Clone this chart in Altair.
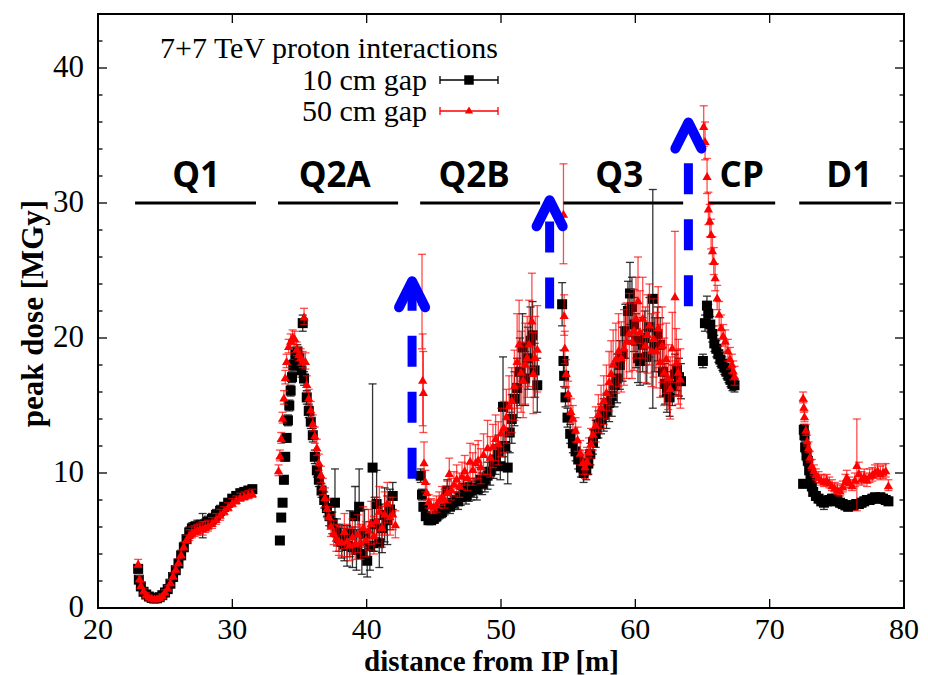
import altair as alt
import pandas as pd

# ---------------- data: 10 cm gap (black squares) ----------------
B_X = [22.99, 23.04, 23.19, 23.39, 23.59, 23.79, 23.99, 24.19, 24.39, 24.59, 24.79, 24.99, 25.19, 25.39, 25.59,
       25.79, 25.99, 26.19, 26.39, 26.59, 26.79, 26.99, 27.19, 27.39, 27.59, 27.79, 27.99, 28.19, 28.49, 28.79,
       29.09, 29.39, 29.69, 29.99, 30.29, 30.59, 30.89, 31.19, 31.49,
       33.54, 33.64, 33.74, 33.84, 33.94, 34.04, 34.14, 34.24, 34.34, 34.44, 34.54, 34.69, 34.84, 34.99, 35.14,
       35.24, 35.34, 35.54, 35.69, 35.84, 35.99, 36.14, 36.29, 36.44, 36.64, 36.84, 37.04, 37.24, 37.44, 37.64,
       37.79, 37.94, 38.14, 38.34, 38.54, 38.74, 38.94, 39.14, 39.24, 39.44, 39.64, 39.84, 40.04, 40.24, 40.44,
       40.59, 40.74, 40.94, 41.14, 41.34, 41.54, 41.74, 41.94,
       44.02, 44.12, 44.22,
       44.4, 44.6, 44.8, 45.0, 45.2, 45.4, 45.6, 45.8, 46.0, 46.2, 46.4, 46.6, 46.8, 47.0, 47.2, 47.4, 47.6,
       47.8, 48.0, 48.2, 48.45, 48.6, 48.8, 49.0, 49.2, 49.45, 49.6, 49.8, 49.95, 50.15, 50.3, 50.5, 50.65,
       50.8, 51.0, 51.2, 51.4, 51.6, 51.8, 52.0, 52.2, 52.35, 52.5, 52.7,
       54.55, 54.65, 54.7, 54.8, 54.95, 55.15, 55.35, 55.55, 55.75, 55.95, 56.15, 56.35, 56.5, 56.65, 56.85,
       57.05, 57.25, 57.45, 57.65, 57.85, 58.05, 58.25, 58.45, 58.65, 58.85, 59.05, 59.25, 59.45, 59.6, 59.75,
       59.9, 60.05, 60.2, 60.35, 60.55, 60.7, 60.85, 61.05, 61.3, 61.45, 61.65, 61.85, 62.05, 62.2, 62.35,
       62.55, 62.75, 62.95, 63.1, 63.25, 63.4,
       65.03, 65.18, 65.33, 65.43, 65.58, 65.73, 65.88, 66.03, 66.18, 66.33, 66.48, 66.63, 66.78, 66.93, 67.08,
       67.23, 67.38,
       72.49, 72.54, 72.59, 72.64, 72.74, 72.84, 72.94, 73.04, 73.14, 73.24, 73.44, 73.64, 73.84, 74.04, 74.24,
       74.44, 74.64, 74.84, 75.04, 75.24, 75.44, 75.64, 75.84, 76.04, 76.24, 76.44, 76.64, 76.84, 77.04, 77.24,
       77.44, 77.64, 77.84, 78.04, 78.24, 78.44, 78.64, 78.84]
B_Y = [2.9, 2.1, 1.6, 1.2, 1.0, 0.85, 0.75, 0.7, 0.72, 0.8, 0.95, 1.15, 1.4, 1.8, 2.3,
       2.8, 3.3, 3.9, 4.5, 5.1, 5.6, 5.9, 6.0, 6.0, 6.1, 6.1, 6.2, 6.4, 6.6, 6.9,
       7.2, 7.5, 7.8, 8.1, 8.3, 8.5, 8.6, 8.7, 8.8,
       5.0, 6.7, 7.8, 9.5, 11.2, 12.6, 13.9, 15.0, 16.1, 17.1, 18.0, 18.8, 19.0, 18.5, 17.6,
       21.1, 17.0, 15.6, 14.6, 13.8, 12.8, 11.2, 10.2, 9.5, 8.7, 8.0, 7.4, 6.8, 6.3, 7.8,
       5.6, 5.2, 4.9, 4.7, 4.6, 5.5, 4.5, 6.8, 4.3, 7.5, 4.0, 5.5, 3.5, 4.6, 10.4,
       6.2, 7.7, 4.8, 5.9, 6.9, 6.5, 7.3, 8.3,
       9.8, 8.4, 7.5,
       6.8, 6.5, 6.5, 6.6, 6.8, 7.0, 7.1, 7.4, 8.7, 7.5, 7.8, 8.0, 7.9, 8.2, 8.9, 8.3, 8.6,
       8.7, 8.9, 8.8, 9.5, 9.2, 9.5, 9.8, 10.1, 10.7, 11.0, 11.6, 10.5, 14.9, 12.0, 10.4, 13.0,
       14.0, 15.5, 16.3, 17.5, 19.3, 17.0, 18.5, 19.8, 20.2, 17.6, 16.5,
       22.5, 18.3, 17.2, 15.6, 14.1, 12.9, 12.2, 11.6, 11.0, 10.4, 10.0, 10.2, 10.7, 11.4, 12.3,
       12.9, 13.6, 14.0, 14.3, 14.6, 15.2, 15.7, 16.5, 17.0, 18.0, 18.8, 20.5, 22.0, 23.3, 22.3,
       21.0, 19.8, 18.5, 18.3, 19.5, 20.0, 18.6, 20.8, 22.9, 19.5, 20.3, 19.5, 17.5, 16.6, 16.0,
       15.6, 16.5, 17.3, 17.6, 17.1, 16.8,
       18.3, 21.1, 22.4, 21.8, 21.0, 20.3, 19.6, 19.2, 18.8, 18.4, 18.1, 17.8, 17.5, 17.2, 16.9,
       16.6, 16.5,
       9.2, 13.2, 12.8, 11.9, 11.3, 10.9, 10.2, 9.7, 9.0, 8.6, 8.3, 8.1, 7.9, 7.8, 7.9,
       8.0, 8.1, 7.9, 8.0, 7.8, 7.7, 7.6, 7.5, 7.6, 7.6, 7.7, 7.7, 7.8, 7.9, 8.0,
       8.0, 8.1, 8.2, 8.1, 8.2, 8.1, 8.0, 7.9]
B_E = [0.3, 0.2, 0.2, 0.15, 0.15, 0.1, 0.1, 0.1, 0.1, 0.1, 0.1, 0.15, 0.15, 0.2, 0.2,
       0.2, 0.25, 0.3, 0.3, 0.3, 0.4, 0.4, 0.4, 0.5, 0.4, 0.9, 0.4, 0.4, 0.4, 0.4,
       0.4, 0.3, 0.3, 0.3, 0.3, 0.3, 0.3, 0.3, 0.3,
       0.2, 0.2, 0.2, 0.3, 0.3, 0.3, 0.4, 0.4, 0.4, 0.4, 0.4, 0.5, 0.5, 0.5, 0.5,
       0.6, 0.5, 0.5, 0.5, 0.5, 0.5, 0.5, 0.5, 0.5, 0.5, 0.6, 0.6, 0.7, 0.8, 2.5,
       1.0, 1.0, 1.2, 1.2, 1.5, 1.7, 1.5, 2.2, 1.5, 2.8, 1.5, 1.8, 1.2, 1.8, 6.2,
       2.0, 2.5, 1.8, 1.8, 2.0, 1.8, 1.5, 1.0,
       0.5, 0.4, 0.3,
       0.3, 0.3, 0.3, 0.3, 0.4, 0.4, 0.4, 0.5, 0.8, 0.5, 0.5, 0.6, 0.6, 0.6, 0.8, 0.6, 0.7,
       0.7, 0.7, 0.8, 0.9, 0.8, 0.9, 1.0, 1.0, 1.1, 1.1, 1.2, 1.0, 3.7, 1.3, 1.2, 1.5,
       1.8, 2.0, 2.2, 2.5, 2.5, 2.0, 2.3, 2.5, 2.5, 2.0, 2.0,
       1.6, 0.8, 0.8, 0.7, 0.7, 0.7, 0.7, 0.7, 0.7, 0.7, 0.7, 0.7, 0.8, 0.8, 0.9,
       1.0, 1.0, 1.1, 1.2, 1.3, 1.4, 1.5, 1.6, 1.8, 1.8, 2.0, 2.0, 2.2, 2.3, 2.2,
       2.0, 2.0, 1.8, 1.8, 2.0, 2.0, 2.0, 2.2, 8.1, 2.0, 2.0, 2.0, 1.8, 1.5, 1.5,
       1.4, 1.5, 1.5, 1.5, 1.4, 1.3,
       0.5, 0.6, 0.7, 0.7, 0.6, 0.6, 0.6, 0.6, 0.6, 0.5, 0.5, 0.5, 0.5, 0.5, 0.5,
       0.5, 0.5,
       0.3, 0.4, 0.4, 0.4, 0.4, 0.4, 0.3, 0.3, 0.3, 0.3, 0.3, 0.3, 0.3, 0.5, 0.3,
       0.3, 0.3, 0.3, 0.3, 0.3, 0.3, 0.3, 0.3, 0.3, 0.3, 0.3, 0.3, 0.3, 0.3, 0.3,
       0.3, 0.3, 0.3, 0.3, 0.3, 0.3, 0.3, 0.3]

# ---------------- data: 50 cm gap (red triangles) ----------------
R_X = [22.99, 23.09, 23.19, 23.39, 23.59, 23.79, 23.99, 24.19, 24.39, 24.59, 24.79, 24.99, 25.19, 25.39, 25.59,
       25.79, 25.99, 26.19, 26.39, 26.59, 26.79, 26.99, 27.19, 27.39, 27.59, 27.79, 27.99, 28.19, 28.49, 28.79,
       29.09, 29.39, 29.69, 29.99, 30.29, 30.59, 30.89, 31.19, 31.49,
       33.44, 33.54, 33.64, 33.74, 33.84, 33.94, 34.04, 34.19, 34.34, 34.49, 34.64, 34.79, 34.94, 35.09, 35.24,
       35.34, 35.44, 35.54, 35.69, 35.84, 35.99, 36.14, 36.29, 36.44, 36.59, 36.74, 36.89, 37.04, 37.19, 37.34,
       37.54, 37.74, 37.94, 38.14, 38.34, 38.54, 38.74, 38.94, 39.14, 39.34, 39.54, 39.74, 39.94, 40.14, 40.34,
       40.54, 40.74, 40.94, 41.14, 41.34, 41.54, 41.74, 41.94, 42.14,
       44.12, 44.17, 44.22, 44.27, 44.37, 44.47, 44.62,
       44.8, 45.0, 45.2, 45.4, 45.6, 45.8, 46.0, 46.15, 46.3, 46.5, 46.7, 46.9, 47.1, 47.3, 47.5,
       47.7, 47.9, 48.1, 48.3, 48.5, 48.7, 49.0, 49.2, 49.4, 49.6, 49.8, 50.0, 50.2, 50.4, 50.6,
       50.8, 51.0, 51.2, 51.35, 51.5, 51.65, 51.8, 51.95, 52.1, 52.3, 52.4, 52.55, 52.7,
       54.65, 54.7, 54.75, 54.85, 55.0, 55.2, 55.35, 55.55, 55.7, 55.9, 56.1, 56.25, 56.4, 56.55, 56.7,
       56.85, 57.05, 57.25, 57.45, 57.65, 57.85, 58.05, 58.2, 58.35, 58.55, 58.75, 58.95, 59.15, 59.35, 59.55,
       59.75, 59.9, 60.05, 60.2, 60.35, 60.55, 60.75, 60.9, 61.05, 61.2, 61.35, 61.55, 61.7, 61.85, 62.0,
       62.15, 62.3, 62.45, 62.6, 62.75, 62.95, 63.05, 63.2, 63.35,
       65.09, 65.19, 65.34, 65.44, 65.54, 65.64, 65.74, 65.84, 65.94, 66.09, 66.24, 66.39, 66.54, 66.69, 66.89,
       67.04, 67.19, 67.29, 67.39,
       72.49, 72.54, 72.59, 72.69, 72.79, 72.89, 72.99, 73.14, 73.29, 73.44, 73.64, 73.84, 74.04, 74.24, 74.44,
       74.64, 74.84, 75.04, 75.24, 75.44, 75.64, 75.74, 75.94, 76.14, 76.34, 76.49, 76.64, 76.84, 77.04, 77.24,
       77.44, 77.64, 77.84, 78.04, 78.24, 78.44, 78.64, 78.84]
R_Y = [3.3, 2.2, 1.7, 1.3, 1.0, 0.85, 0.75, 0.7, 0.72, 0.8, 0.95, 1.2, 1.5, 1.9, 2.4,
       2.9, 3.4, 4.0, 4.6, 5.1, 5.4, 5.6, 5.7, 5.8, 5.9, 5.9, 6.0, 6.1, 6.3, 6.6,
       6.9, 7.2, 7.5, 7.8, 8.0, 8.2, 8.3, 8.4, 8.5,
       10.2, 11.3, 12.6, 14.1, 15.6, 17.1, 18.3, 19.4, 19.8, 20.1, 20.0, 19.2, 18.8, 18.6, 18.4,
       21.6, 18.3, 16.6, 15.6, 14.7, 13.7, 12.8, 11.9, 10.8, 9.9, 9.0, 8.2, 7.4, 6.8, 6.1,
       5.6, 5.2, 5.0, 4.9, 5.7, 5.0, 4.7, 5.3, 4.8, 5.5, 4.9, 6.0, 5.1, 5.8, 6.3,
       5.4, 6.5, 7.2, 6.0, 7.0, 7.8, 6.8, 7.0, 6.2,
       22.7, 16.9, 16.0, 10.8, 9.4, 8.6, 7.9,
       7.6, 7.5, 7.7, 8.0, 8.3, 8.1, 8.6, 10.0, 8.8, 9.2, 9.6, 9.1, 9.8, 10.2, 9.7,
       10.9, 10.3, 10.8, 11.0, 10.5, 11.4, 11.9, 11.2, 12.0, 12.6, 12.2, 13.0, 13.4, 14.2, 15.0,
       15.4, 16.5, 18.3, 19.6, 17.5, 16.9, 18.1, 18.6, 19.6, 21.3, 17.4, 18.6, 19.2,
       29.2, 21.7, 19.3, 17.4, 15.9, 14.6, 14.1, 13.2, 12.5, 11.5, 10.8, 10.5, 10.9, 11.6, 12.2,
       12.9, 13.6, 14.4, 14.9, 15.4, 16.0, 16.8, 17.4, 18.1, 18.5, 19.1, 18.6, 19.3, 19.8, 20.4,
       19.8, 20.6, 21.5, 22.8, 20.5, 21.5, 19.5, 20.3, 21.0, 19.1, 20.0, 19.1, 20.8, 18.3, 19.5,
       17.5, 18.5, 17.1, 16.3, 19.3, 23.1, 18.2, 17.5, 17.0,
       35.7, 34.6, 32.0, 29.6, 28.7, 27.7, 26.5, 25.7, 24.5, 23.0, 21.8, 20.8, 20.2, 19.8, 19.1,
       18.5, 18.1, 17.6, 17.2,
       15.6, 14.9, 14.2, 13.2, 12.4, 11.9, 11.2, 10.6, 10.2, 9.9, 9.7, 9.5, 9.4, 9.5, 9.3,
       9.1, 8.9, 8.8, 8.7, 9.0, 9.4, 9.7, 9.3, 9.1, 9.5, 10.6, 10.0, 9.6, 9.8, 9.5,
       9.8, 9.9, 10.1, 10.2, 10.0, 10.1, 10.2, 9.1]
R_E = [0.3, 0.2, 0.2, 0.15, 0.15, 0.1, 0.1, 0.1, 0.1, 0.1, 0.1, 0.15, 0.15, 0.2, 0.2,
       0.2, 0.25, 0.3, 0.3, 0.3, 0.4, 0.4, 0.4, 0.4, 0.4, 0.5, 0.4, 0.4, 0.4, 0.4,
       0.4, 0.3, 0.3, 0.3, 0.3, 0.3, 0.3, 0.3, 0.3,
       0.4, 0.4, 0.4, 0.4, 0.5, 0.5, 0.5, 0.5, 0.5, 0.5, 0.5, 0.5, 0.5, 0.6, 0.6,
       0.6, 0.6, 0.6, 0.6, 0.6, 0.6, 0.6, 0.6, 0.6, 0.6, 0.6, 0.7, 0.7, 0.7, 0.8,
       0.9, 1.0, 1.1, 1.1, 1.3, 1.2, 1.2, 1.3, 1.2, 1.4, 1.3, 1.5, 1.3, 1.5, 1.6,
       1.4, 1.7, 1.8, 1.5, 1.6, 1.5, 1.4, 1.2, 1.0,
       3.5, 3.4, 3.0, 1.5, 0.8, 0.6, 0.5,
       0.5, 0.5, 0.6, 0.6, 0.7, 0.7, 0.8, 1.1, 0.8, 0.9, 1.0, 0.9, 1.0, 1.1, 1.0,
       1.3, 1.2, 1.3, 1.4, 1.3, 1.5, 2.0, 1.5, 1.6, 1.7, 1.6, 1.8, 1.9, 2.0, 2.2,
       2.4, 2.6, 3.5, 3.2, 3.0, 2.8, 3.0, 3.0, 3.2, 3.5, 3.0, 3.0, 3.2,
       3.7, 1.5, 1.2, 1.0, 0.9, 0.9, 0.9, 0.9, 0.9, 0.9, 0.9, 0.9, 1.0, 1.0, 1.1,
       1.2, 1.3, 1.4, 1.6, 1.8, 2.0, 2.2, 2.4, 2.5, 2.6, 2.7, 2.6, 2.8, 2.8, 2.9,
       2.8, 3.0, 3.0, 3.2, 3.0, 3.0, 2.8, 2.9, 3.0, 2.7, 2.9, 2.8, 3.0, 2.7, 2.8,
       2.5, 2.6, 2.4, 2.3, 2.6, 4.8, 2.5, 2.4, 2.2,
       1.5, 1.4, 1.3, 1.2, 1.2, 1.1, 1.0, 1.0, 1.0, 0.9, 0.9, 0.9, 0.8, 0.8, 0.8,
       0.8, 0.7, 0.7, 0.7,
       0.4, 0.4, 0.4, 0.4, 0.4, 0.4, 0.4, 0.4, 0.4, 0.4, 0.4, 0.4, 0.4, 0.4, 0.4,
       0.4, 0.4, 0.4, 0.4, 0.4, 0.5, 0.5, 0.4, 0.4, 0.5, 3.4, 0.8, 0.5, 0.5, 0.5,
       0.5, 0.5, 0.5, 0.5, 0.5, 0.5, 0.5, 0.4]

# ---------------- annotations ----------------
SEG_NAMES = ["Q1", "Q2A", "Q2B", "Q3", "CP", "D1"]
SEG_START = [22.76, 33.40, 43.98, 54.62, 65.42, 72.20]
SEG_END = [31.76, 42.34, 52.91, 63.56, 70.41, 79.05]
SEG_LABEL_X = [27.3, 37.62, 48.0, 58.8, 67.92, 75.92]
SEG_LINE_Y = 30
SEG_LABEL_Y = 31.15

ARROW_X = [43.38, 53.62, 63.95]
ARROW_BOTTOM = [9.58, 22.18, 22.35]
ARROW_SHAFT_TOP = [24.2, 28.67, 32.96]
ARROW_TIP = [24.2, 30.2, 35.96]
HEAD_HALF_W = 0.97
HEAD_H = 1.93

X_TICKS = [20, 30, 40, 50, 60, 70, 80]
Y_TICKS = [0, 10, 20, 30, 40]
X_MAJOR_IN = [30, 40, 50, 60, 70]
Y_MAJOR_IN = [10, 20, 30, 40]
Y_MINOR_IN = [2, 4, 6, 8, 12, 14, 16, 18, 22, 24, 26, 28, 32, 34, 36, 38, 42]

W, H = 806, 594
SERIF = "Liberation Serif"

bdf = pd.DataFrame({"x": B_X, "y": B_Y, "lo": [a - b for a, b in zip(B_Y, B_E)],
                    "hi": [a + b for a, b in zip(B_Y, B_E)]})
rdf = pd.DataFrame({"x": R_X, "y": R_Y, "lo": [a - b for a, b in zip(R_Y, R_E)],
                    "hi": [a + b for a, b in zip(R_Y, R_E)]})

XS = alt.Scale(domain=[20, 80], nice=False, zero=False)
YS = alt.Scale(domain=[0, 44], nice=False, zero=False)
XAX = alt.Axis(values=X_TICKS, title="distance from IP [m]", grid=False, ticks=False, tickSize=0,
               domain=False, labels=False,
               titleFont=SERIF, titleFontSize=29, titleFontWeight="bold", titleColor="black",
               titleX=393, titleY=62, titleBaseline="alphabetic", titleAlign="center")
YAX = alt.Axis(values=Y_TICKS, title="peak dose [MGy]", grid=False, ticks=False, tickSize=0,
               domain=False, labels=False,
               titleFont=SERIF, titleFontSize=31, titleFontWeight="bold", titleColor="black",
               titleAngle=270, titleX=-65, titleY=299, titleBaseline="middle", titleAlign="center")


def X(f):
    return alt.X(f"{f}:Q", scale=XS, axis=XAX)


def Y(f):
    return alt.Y(f"{f}:Q", scale=YS, axis=YAX)


def errbars(df, color, opacity):
    bars = alt.Chart(df).mark_rule(color=color, strokeWidth=1.3, opacity=opacity).encode(
        x=X("x"), y=Y("lo"), y2="hi:Q")
    caps = alt.Chart(df).transform_fold(["lo", "hi"], as_=["k", "v"]).mark_tick(
        orient="horizontal", color=color, size=8, thickness=1.3, opacity=opacity).encode(
        x=X("x"), y=Y("v"))
    return [bars, caps]


black_pts = alt.Chart(bdf).mark_point(shape="square", filled=True, size=100, color="black",
                                      opacity=1).encode(x=X("x"), y=Y("y"))
red_pts = alt.Chart(rdf).mark_point(shape="triangle-up", filled=True, size=85, color="#ff0000",
                                    opacity=1).encode(x=X("x"), y=Y("y"))

# tick labels drawn as serif text
xlab = pd.DataFrame({"v": X_TICKS, "t": [str(v) for v in X_TICKS]})
ylab = pd.DataFrame({"v": Y_TICKS, "t": [str(v) for v in Y_TICKS]})
label_layers = [
    alt.Chart(xlab).mark_text(font=SERIF, fontSize=30, color="black", align="center", baseline="top").encode(
        x=X("v"), y=alt.value(H + 7), text="t:N"),
    alt.Chart(ylab).mark_text(font=SERIF, fontSize=31, color="black", align="right", baseline="middle").encode(
        y=Y("v"), x=alt.value(-14), text="t:N"),
]

# inward ticks
ymaj = pd.DataFrame({"v": Y_MAJOR_IN})
ymin = pd.DataFrame({"v": Y_MINOR_IN})
xmaj = pd.DataFrame({"v": X_MAJOR_IN})
tick_layers = [
    alt.Chart(ymaj).mark_rule(color="black", strokeWidth=1.3).encode(y=Y("v"), x=alt.value(0), x2=alt.value(9)),
    alt.Chart(ymaj).mark_rule(color="black", strokeWidth=1.3).encode(y=Y("v"), x=alt.value(W), x2=alt.value(W - 9)),
    alt.Chart(ymin).mark_rule(color="black", strokeWidth=1.3).encode(y=Y("v"), x=alt.value(0), x2=alt.value(4.5)),
    alt.Chart(ymin).mark_rule(color="black", strokeWidth=1.3).encode(y=Y("v"), x=alt.value(W), x2=alt.value(W - 4.5)),
    alt.Chart(xmaj).mark_rule(color="black", strokeWidth=1.3).encode(x=X("v"), y=alt.value(H), y2=alt.value(H - 9)),
    alt.Chart(xmaj).mark_rule(color="black", strokeWidth=1.3).encode(x=X("v"), y=alt.value(0), y2=alt.value(9)),
]

# magnet segments
seg = pd.DataFrame({"name": SEG_NAMES, "x0": SEG_START, "x1": SEG_END, "xc": SEG_LABEL_X,
                    "yl": [SEG_LINE_Y] * 6, "yt": [SEG_LABEL_Y] * 6})
seg_lines = alt.Chart(seg).mark_rule(color="black", strokeWidth=3).encode(x=X("x0"), x2="x1:Q", y=Y("yl"))
seg_text = alt.Chart(seg).mark_text(font="Open Sans", fontWeight="bold", fontSize=35, color="black",
                                    align="center", baseline="alphabetic").encode(
    x=X("xc"), y=Y("yt"), text="name:N")

# blue dashed arrows
arr = pd.DataFrame({"x": ARROW_X, "y0": ARROW_BOTTOM, "y1": ARROW_SHAFT_TOP})
shafts = alt.Chart(arr).mark_rule(color="#0000ff", strokeWidth=9, strokeDash=[31, 25]).encode(
    x=X("x"), y=Y("y0"), y2="y1:Q")
head_rows = []
for i, (ax, tip) in enumerate(zip(ARROW_X, ARROW_TIP)):
    head_rows.append({"a": i, "k": 0, "x": ax - HEAD_HALF_W, "y": tip - HEAD_H})
    head_rows.append({"a": i, "k": 1, "x": ax, "y": tip})
    head_rows.append({"a": i, "k": 2, "x": ax + HEAD_HALF_W, "y": tip - HEAD_H})
heads = alt.Chart(pd.DataFrame(head_rows)).mark_line(color="#0000ff", strokeWidth=10, strokeCap="round",
                                                     strokeJoin="round").encode(
    x=X("x"), y=Y("y"), detail="a:N", order="k:Q")

# legend (pixel positions inside the plot frame)
one = pd.DataFrame({"d": [0]})
leg = [
    alt.Chart(one).mark_text(font=SERIF, fontSize=30, color="black", align="left", baseline="alphabetic",
                             text="7+7 TeV proton interactions").encode(x=alt.value(62), y=alt.value(44)),
    alt.Chart(one).mark_text(font=SERIF, fontSize=30, color="black", align="right", baseline="alphabetic",
                             text="10 cm gap").encode(x=alt.value(329), y=alt.value(76)),
    alt.Chart(one).mark_text(font=SERIF, fontSize=30, color="black", align="right", baseline="alphabetic",
                             text="50 cm gap").encode(x=alt.value(329), y=alt.value(107)),
    alt.Chart(one).mark_rule(color="black", strokeWidth=1.3).encode(x=alt.value(342), x2=alt.value(400), y=alt.value(66)),
    alt.Chart(one).mark_rule(color="black", strokeWidth=1.3).encode(x=alt.value(342), y=alt.value(62), y2=alt.value(70)),
    alt.Chart(one).mark_rule(color="black", strokeWidth=1.3).encode(x=alt.value(400), y=alt.value(62), y2=alt.value(70)),
    alt.Chart(one).mark_point(shape="square", filled=True, size=90, color="black", opacity=1).encode(
        x=alt.value(371), y=alt.value(66)),
    alt.Chart(one).mark_rule(color="#ff0000", strokeWidth=1.3).encode(x=alt.value(342), x2=alt.value(400), y=alt.value(97)),
    alt.Chart(one).mark_rule(color="#ff0000", strokeWidth=1.3).encode(x=alt.value(342), y=alt.value(93), y2=alt.value(101)),
    alt.Chart(one).mark_rule(color="#ff0000", strokeWidth=1.3).encode(x=alt.value(400), y=alt.value(93), y2=alt.value(101)),
    alt.Chart(one).mark_point(shape="triangle-up", filled=True, size=70, color="#ff0000", opacity=1).encode(
        x=alt.value(371), y=alt.value(96)),
]

layers = (tick_layers + label_layers + [seg_lines, seg_text]
          + errbars(bdf, "#111111", 0.85) + [black_pts]
          + errbars(rdf, "#ff0000", 0.7) + [red_pts]
          + [shafts, heads] + leg)

chart = alt.layer(*layers).properties(
    width=W, height=H,
    autosize=alt.AutoSizeParams(type="none"),
    padding={"left": 90, "top": 6, "right": 16, "bottom": 72},
    background="white",
).configure_view(stroke="black", strokeWidth=2).configure_axis(
    titleFont=SERIF, titleColor="black"
)

chart.save("out.html", embed_options={"renderer": "svg", "actions": False})
